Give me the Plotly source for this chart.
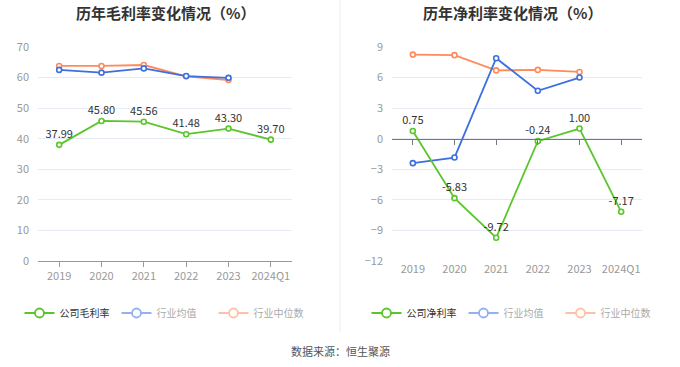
import plotly.graph_objects as go

categories = ["2019", "2020", "2021", "2022", "2023", "2024Q1"]
gross_company = [37.99, 45.80, 45.56, 41.48, 43.30, 39.70]
gross_avg = [62.5, 61.6, 63.0, 60.5, 59.9]
gross_median = [63.8, 63.8, 64.1, 60.4, 59.2]
net_company = [0.75, -5.83, -9.72, -0.24, 1.00, -7.17]
net_avg = [-2.4, -1.85, 7.9, 4.7, 6.0]
net_median = [8.25, 8.2, 6.7, 6.75, 6.55]

GREEN = "#5BC52C"
BLUE = "#3D6FE0"
ORANGE = "#FF8A5C"
BLUE_L = "#93B1F0"
ORANGE_L = "#FFC0A8"
FONT = "Noto Sans CJK SC, sans-serif"

fig = go.Figure()

def add_panel(xa, ya, comp, avg, med, names, legend):
    mk = lambda c: dict(symbol="circle", size=5, color="white", line=dict(color=c, width=1.6))
    fig.add_trace(go.Scatter(x=categories[:len(med)], y=med, mode="lines+markers", xaxis=xa, yaxis=ya,
                             line=dict(color=ORANGE, width=1.8), marker=mk(ORANGE), showlegend=False, hoverinfo="skip"))
    fig.add_trace(go.Scatter(x=categories[:len(avg)], y=avg, mode="lines+markers", xaxis=xa, yaxis=ya,
                             line=dict(color=BLUE, width=1.8), marker=mk(BLUE), showlegend=False, hoverinfo="skip"))
    fig.add_trace(go.Scatter(x=categories, y=comp, mode="lines+markers+text", xaxis=xa, yaxis=ya,
                             line=dict(color=GREEN, width=1.8), marker=mk(GREEN),
                             text=[f"{v:.2f}" for v in comp], textposition="top center",
                             textfont=dict(size=11, color="#333", family=FONT),
                             showlegend=False, hoverinfo="skip"))
    for nm, c, tc in [(names[0], GREEN, "#333"), (names[1], BLUE_L, "#aaa"), (names[2], ORANGE_L, "#aaa")]:
        fig.add_trace(go.Scatter(x=[None], y=[None], mode="lines+markers", xaxis=xa, yaxis=ya,
                                 line=dict(color=c, width=1.8),
                                 marker=dict(symbol="circle", size=9, color="white", line=dict(color=c, width=1.8)),
                                 name=f"<span style='color:{tc}'>{nm}</span>", legend=legend))

add_panel("x", "y", gross_company, gross_avg, gross_median, ["公司毛利率", "行业均值", "行业中位数"], "legend")
add_panel("x2", "y2", net_company, net_avg, net_median, ["公司净利率", "行业均值", "行业中位数"], "legend2")

ydom = [0.2888, 0.872]
tickf = dict(size=11, color="#999", family=FONT)
grid = "#E6EBF5"

legend_common = dict(orientation="h", y=(367-313)/367, yanchor="middle", xanchor="center",
                     font=dict(size=10, family=FONT), itemwidth=30, entrywidth=52,
                     tracegroupgap=0, bgcolor="rgba(0,0,0,0)")

fig.update_layout(
    width=680, height=367, margin=dict(l=0, r=0, t=0, b=0, autoexpand=False),
    paper_bgcolor="white", plot_bgcolor="white",
    font=dict(family=FONT),
    xaxis=dict(domain=[38/680, 292/680], anchor="y", type="category", categoryorder="array",
               categoryarray=categories, range=[-0.5, 5.5], showgrid=False, showline=True,
               linecolor="#999", ticks="outside", ticklen=5, tickcolor="#999", tickfont=tickf),
    yaxis=dict(domain=ydom, anchor="x", range=[0, 70], dtick=10, showgrid=True, gridcolor=grid,
               zeroline=False, showline=False, tickfont=tickf, ticks="", ticklabelstandoff=8),
    xaxis2=dict(domain=[392/680, 642/680], anchor="y2", type="category", categoryorder="array",
                categoryarray=categories, range=[-0.5, 5.5], showgrid=False, showline=False,
                ticks="", tickfont=tickf),
    yaxis2=dict(domain=ydom, anchor="x2", range=[-12, 9], dtick=3, showgrid=True, gridcolor=grid,
                zeroline=False, showline=False, tickfont=tickf, ticks="", ticklabelstandoff=8),
    xaxis3=dict(overlaying="x2", anchor="free", position=ydom[0] + 12/21*(ydom[1]-ydom[0]),
                type="category", categoryorder="array", categoryarray=categories, range=[-0.5, 5.5],
                showgrid=False, showline=True, linecolor="#777", ticks="outside", ticklen=5,
                tickcolor="#777", showticklabels=False, matches="x2"),
    legend=dict(legend_common, x=165/680),
    legend2=dict(legend_common, x=512/680),
    annotations=[
        dict(text="<b>历年毛利率变化情况（%）</b>", x=165/680, y=(367-12)/367, xref="paper", yref="paper",
             showarrow=False, font=dict(size=15, color="#333", family=FONT), xanchor="center", yanchor="middle"),
        dict(text="<b>历年净利率变化情况（%）</b>", x=512/680, y=(367-12)/367, xref="paper", yref="paper",
             showarrow=False, font=dict(size=15, color="#333", family=FONT), xanchor="center", yanchor="middle"),
        dict(text="数据来源：恒生聚源", x=0.5, y=(367-351)/367, xref="paper", yref="paper",
             showarrow=False, font=dict(size=11, color="#555", family=FONT), xanchor="center", yanchor="middle"),
    ],
    shapes=[dict(type="line", xref="paper", yref="paper", x0=0.5, x1=0.5, y0=(367-332)/367, y1=1,
                 line=dict(color="#EEEEEE", width=1))],
)
fig.add_trace(go.Scatter(x=categories, y=[None]*6, xaxis="x3", yaxis="y2", showlegend=False, hoverinfo="skip"))

fig.write_html("out.html", config={"displayModeBar": False},
               post_script="document.documentElement.style.margin='0';document.body.style.margin='0';document.body.style.overflow='hidden';")
